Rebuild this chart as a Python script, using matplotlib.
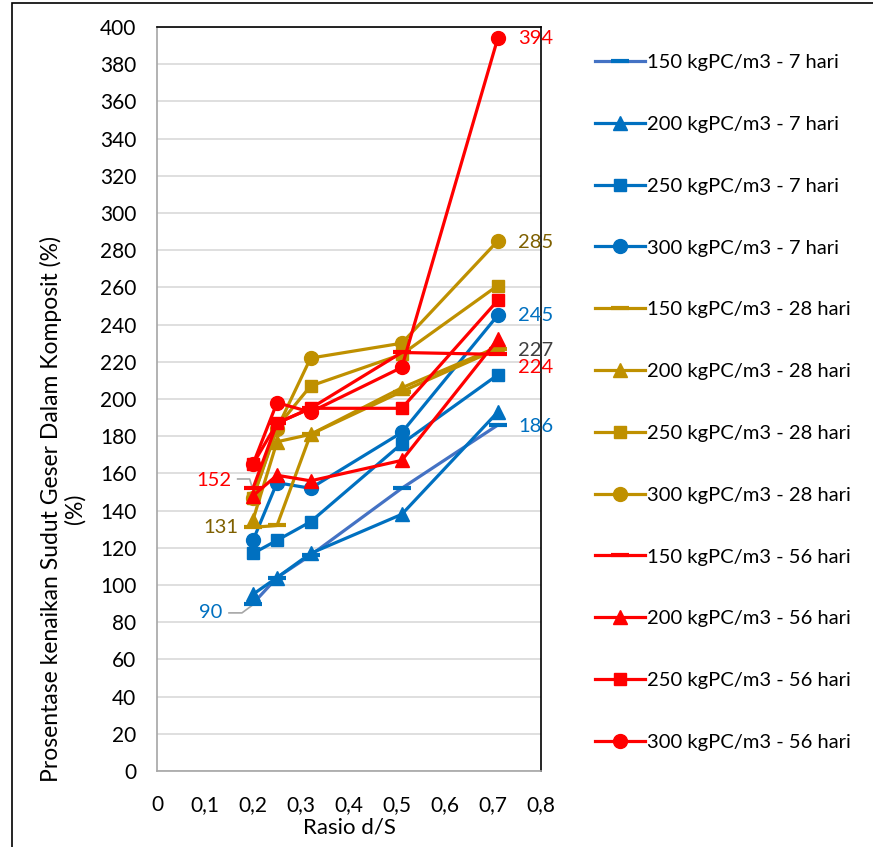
import matplotlib
matplotlib.use("Agg")
from matplotlib import pyplot as plt
from matplotlib.patches import Rectangle
from matplotlib.ticker import FuncFormatter, MultipleLocator

plt.rcParams['font.family'] = ['Lato', 'DejaVu Sans']

# rasio d/S
rasio = [0.2, 0.25, 0.32, 0.51, 0.71]

# kenaikan sudut geser (%) per series
pc150_7 = [90, 104, 116, 152, 186]
pc200_7 = [95, 104, 117, 138, 193]
pc250_7 = [117, 124, 134, 176, 213]
pc300_7 = [124, 155, 152, 182, 245]
pc150_28 = [131, 132, 181, 204, 227]
pc200_28 = [135, 177, 181, 206, 228]
pc250_28 = [147, 185, 207, 224, 261]
pc300_28 = [147, 184, 222, 230, 285]
pc150_56 = [152, 187, 195, 225, 224]
pc200_56 = [148, 159, 156, 167, 232]
pc250_56 = [165, 187, 195, 195, 253]
pc300_56 = [165, 198, 193, 217, 394]

labels = [
    "150 kgPC/m3 - 7 hari", "200 kgPC/m3 - 7 hari",
    "250 kgPC/m3 - 7 hari", "300 kgPC/m3 - 7 hari",
    "150 kgPC/m3 - 28 hari", "200 kgPC/m3 - 28 hari",
    "250 kgPC/m3 - 28 hari", "300 kgPC/m3 - 28 hari",
    "150 kgPC/m3 - 56 hari", "200 kgPC/m3 - 56 hari",
    "250 kgPC/m3 - 56 hari", "300 kgPC/m3 - 56 hari",
]
series = [pc150_7, pc200_7, pc250_7, pc300_7,
          pc150_28, pc200_28, pc250_28, pc300_28,
          pc150_56, pc200_56, pc250_56, pc300_56]

blue = '#0070C0'
gold = '#BF9000'
red = '#FF0000'
line_colors = ['#4472C4', blue, blue, blue,
               gold, gold, gold, gold,
               red, red, red, red]
marker_colors = [blue, blue, blue, blue,
                 gold, gold, gold, gold,
                 red, red, red, red]
markers = ['_', '^', 's', 'o'] * 3
marker_sizes = [13, 10, 9, 10] * 3

fig = plt.figure(figsize=(8.73, 8.47), dpi=100)
ax = fig.add_axes([157 / 873, 1 - 771 / 847, 384 / 873, 744 / 847])

for ys, lab, lc, mc, mk, ms in zip(series, labels, line_colors, marker_colors, markers, marker_sizes):
    ax.plot(rasio, ys, color=lc, linewidth=2.3, marker=mk, markersize=ms,
            markerfacecolor=mc, markeredgecolor=mc,
            markeredgewidth=3 if mk == '_' else 1, label=lab, zorder=3)

ax.set_xlim(0, 0.8)
ax.set_ylim(0, 400)
ax.xaxis.set_major_locator(MultipleLocator(0.1))
ax.yaxis.set_major_locator(MultipleLocator(20))
ax.xaxis.set_major_formatter(FuncFormatter(lambda v, p: '0' if abs(v) < 1e-9 else f'{v:.1f}'.replace('.', ',')))
ax.yaxis.grid(True, color='#D9D9D9', linewidth=1.2, zorder=0)
ax.set_axisbelow(True)
ax.tick_params(axis='both', length=0, labelsize=15, colors='#000000')
ax.tick_params(axis='x', pad=17)
ax.tick_params(axis='y', pad=15)

for side in ['left', 'bottom']:
    ax.spines[side].set_color('#A6A6A6')
    ax.spines[side].set_linewidth(1.2)
for side in ['top', 'right']:
    ax.spines[side].set_color('#000000')
    ax.spines[side].set_linewidth(1.2)

ax.set_xlabel('Rasio d/S', fontsize=16, labelpad=2)
fig.text(63 / 873, 1 - 509 / 847,
         'Prosentase kenaikan Sudut Geser Dalam Komposit (%)\n(%)',
         rotation=90, ha='center', va='center', multialignment='center',
         fontsize=16.5, linespacing=1.1)

# value labels on selected points
ann = dict(fontsize=14.5, va='center')
ax.text(rasio[4] + 0.043, pc300_56[4], str(pc300_56[4]), color=red, **ann)
ax.text(rasio[4] + 0.043, pc300_28[4] - 1, str(pc300_28[4]), color='#7F6000', **ann)
ax.text(rasio[4] + 0.043, pc300_7[4], str(pc300_7[4]), color=blue, **ann)
ax.text(rasio[4] + 0.043, pc150_28[4] - 1, str(pc150_28[4]), color='#404040', **ann)
ax.text(rasio[4] + 0.043, pc150_56[4] - 7, str(pc150_56[4]), color=red, **ann)
ax.text(rasio[4] + 0.043, pc150_7[4] - 1, str(pc150_7[4]), color=blue, **ann)
ax.text(0.156, pc150_56[0] + 4, str(pc150_56[0]), color=red, ha='right', **ann)
ax.text(0.17, pc150_28[0], str(pc150_28[0]), color='#7F6000', ha='right', **ann)
ax.text(0.137, pc150_7[0] - 5, str(pc150_7[0]), color=blue, ha='right', **ann)

# leader lines
ax.plot([0.168, 0.193, 0.2], [157, 157, pc150_56[0] - 1], color='#A6A6A6', linewidth=1.2, zorder=2)
ax.plot([0.15, 0.177, 0.198], [85, 85, pc150_7[0] - 1], color='#A6A6A6', linewidth=1.2, zorder=2)

leg = ax.legend(loc='upper left', bbox_to_anchor=(595 / 873, 1 - 54 / 847),
                bbox_transform=fig.transFigure, frameon=False, fontsize=14.5,
                handlelength=2.5, handletextpad=0.1, labelspacing=2.22,
                borderaxespad=0, borderpad=0)
for t in leg.get_texts():
    t.set_color('#000000')

# chart border
fig.patches.append(Rectangle((12 / 873, -0.05), 1.2, 1 - 3 / 847 + 0.05,
                             transform=fig.transFigure, fill=False,
                             edgecolor='#000000', linewidth=1.2))

fig.savefig('out.png', dpi=100)
